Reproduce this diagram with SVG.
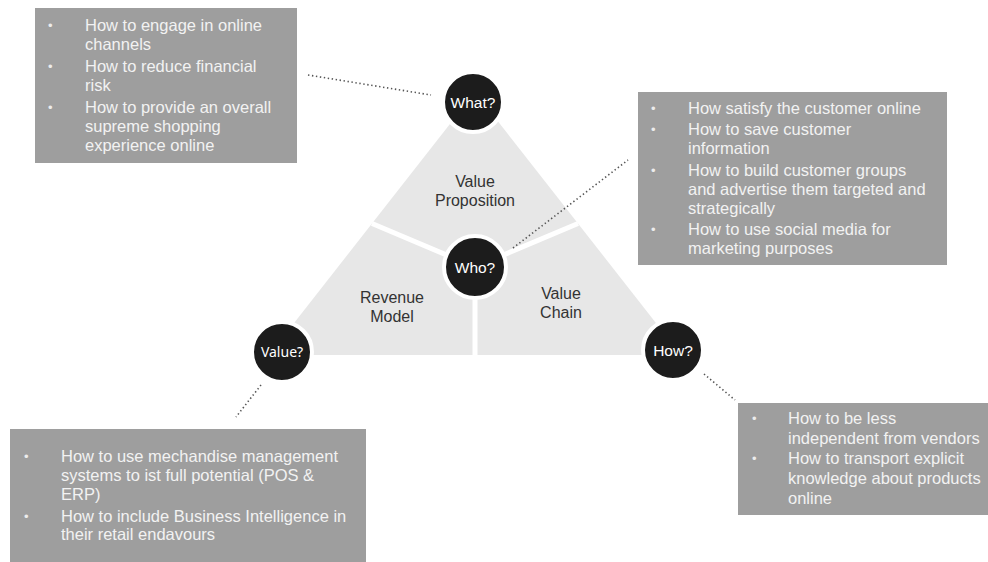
<svg xmlns="http://www.w3.org/2000/svg" width="988" height="562" viewBox="0 0 988 562">
  <style>
    .box { fill: #9e9e9e; }
    .txt { font-family: "Liberation Sans", Arial, sans-serif; font-size: 16.5px; fill: #f2f2f2; }
    .bul { font-family: "Liberation Sans", Arial, sans-serif; font-size: 13px; fill: #ececec; }
    .seg { fill: #e7e7e7; }
    .gap { stroke: #ffffff; stroke-width: 5; stroke-linecap: butt; }
    .lbl { font-family: "Liberation Sans", Arial, sans-serif; font-size: 16px; fill: #333333; text-anchor: middle; }
    .node { fill: #1c1c1c; stroke: #ffffff; stroke-width: 4; }
    .ntx { font-family: "Liberation Sans", Arial, sans-serif; font-size: 15.5px; fill: #ffffff; text-anchor: middle; }
    .dot { stroke: #555555; stroke-width: 1.6; stroke-dasharray: 1.4 2.6; fill: none; }
  </style>

  <rect width="988" height="562" fill="#ffffff"/>

  <!-- business model triangle, split into three segments -->
  <g id="triangle">
    <polygon class="seg" points="475,92 269,355 681,355"/>
    <line class="gap" x1="475" y1="267" x2="372" y2="223.5"/>
    <line class="gap" x1="475" y1="267" x2="578" y2="223.5"/>
    <line class="gap" x1="475" y1="267" x2="475" y2="357"/>
    <text class="lbl" x="475" y="187">Value</text>
    <text class="lbl" x="475" y="206">Proposition</text>
    <text class="lbl" x="392" y="303">Revenue</text>
    <text class="lbl" x="392" y="322">Model</text>
    <text class="lbl" x="561" y="299">Value</text>
    <text class="lbl" x="561" y="318">Chain</text>
  </g>

  <!-- dotted leaders -->
  <g id="connectors">
    <line class="dot" x1="308" y1="75" x2="431" y2="95"/>
    <line class="dot" x1="513" y1="248" x2="628" y2="160"/>
    <line class="dot" x1="261" y1="385" x2="236" y2="417"/>
    <line class="dot" x1="704" y1="374" x2="735" y2="400"/>
  </g>

  <g id="what">
    <circle class="node" cx="473" cy="102" r="30"/>
    <text class="ntx" x="473" y="107.5">What?</text>
  </g>
  <g id="who">
    <circle class="node" cx="475" cy="267" r="31"/>
    <text class="ntx" x="475" y="272.5">Who?</text>
  </g>
  <g id="value">
    <circle class="node" cx="282" cy="352" r="30"/>
    <text class="ntx" x="282" y="357" style="font-family: 'Noto Sans', 'Open Sans', sans-serif; font-size: 14px;">Value?</text>
  </g>
  <g id="how">
    <circle class="node" cx="673" cy="350" r="30"/>
    <text class="ntx" x="673" y="355.5">How?</text>
  </g>

  <!-- "What?" questions -->
  <g id="box-what">
    <rect class="box" x="35" y="8" width="262" height="155"/>
    <text class="bul" x="48" y="30">•</text>
    <text class="txt" x="85" y="31">How to engage in online</text>
    <text class="txt" x="85" y="50">channels</text>
    <text class="bul" x="48" y="71">•</text>
    <text class="txt" x="85" y="72">How to reduce financial</text>
    <text class="txt" x="85" y="91">risk</text>
    <text class="bul" x="48" y="112">•</text>
    <text class="txt" x="85" y="113">How to provide an overall</text>
    <text class="txt" x="85" y="132">supreme shopping</text>
    <text class="txt" x="85" y="151">experience online</text>
  </g>

  <!-- "Who?" questions -->
  <g id="box-who">
    <rect class="box" x="638" y="92" width="309" height="173"/>
    <text class="bul" x="651" y="113">•</text>
    <text class="txt" x="688" y="114">How satisfy the customer online</text>
    <text class="bul" x="651" y="134">•</text>
    <text class="txt" x="688" y="135">How to save customer</text>
    <text class="txt" x="688" y="154">information</text>
    <text class="bul" x="651" y="175">•</text>
    <text class="txt" x="688" y="176">How to build  customer groups</text>
    <text class="txt" x="688" y="195">and advertise them targeted and</text>
    <text class="txt" x="688" y="214">strategically</text>
    <text class="bul" x="651" y="234">•</text>
    <text class="txt" x="688" y="235">How to use social media for</text>
    <text class="txt" x="688" y="254">marketing purposes</text>
  </g>

  <!-- "Value?" questions -->
  <g id="box-value">
    <rect class="box" x="10" y="429" width="356" height="133"/>
    <text class="bul" x="24" y="461">•</text>
    <text class="txt" x="61" y="462">How to use mechandise management</text>
    <text class="txt" x="61" y="481">systems to ist full potential (POS &amp;</text>
    <text class="txt" x="61" y="500">ERP)</text>
    <text class="bul" x="24" y="521">•</text>
    <text class="txt" x="61" y="522">How to include  Business Intelligence in</text>
    <text class="txt" x="61" y="540">their retail endavours</text>
  </g>

  <!-- "How?" questions -->
  <g id="box-how">
    <rect class="box" x="738" y="403" width="250" height="112"/>
    <text class="bul" x="752" y="423">•</text>
    <text class="txt" x="788" y="424">How to be less</text>
    <text class="txt" x="788" y="444">independent from  vendors</text>
    <text class="bul" x="752" y="463">•</text>
    <text class="txt" x="788" y="464">How to transport explicit</text>
    <text class="txt" x="788" y="484">knowledge  about products</text>
    <text class="txt" x="788" y="504">online</text>
  </g>
</svg>
